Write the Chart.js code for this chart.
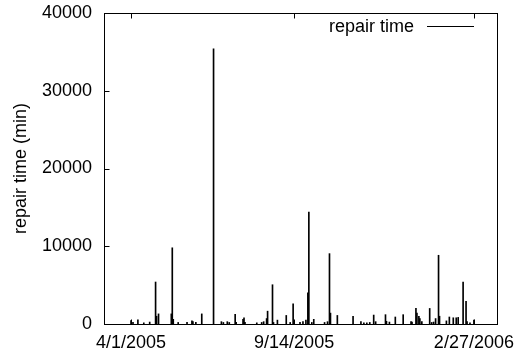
<!DOCTYPE html>
<html>
<head>
<meta charset="utf-8">
<script src="https://cdn.jsdelivr.net/npm/chart.js@4"></script>
<style>
	html, body { margin: 0; padding: 0; background: #fff; }
</style>
</head>
<body>
<canvas id="repairChart" width="516" height="358"></canvas>
<script>
//	Days after 4/1/2005 at which a repair was logged
var dayOffsets = [0, 2, 7, 13, 19, 25, 26, 28, 41, 42, 43, 48, 57, 62, 63, 66, 72, 84, 92, 94,
	98, 100, 106, 107, 114, 115, 116, 128, 133, 135, 138, 139, 144, 145, 149, 158, 162, 165, 166, 172,
	175, 178, 180, 181, 184, 186, 197, 200, 202, 203, 210, 226, 234, 237, 240, 243, 247, 249, 259, 260,
	263, 269, 277, 285, 286, 290, 291, 293, 294, 296, 304, 306, 308, 310, 313, 314, 321, 324, 328, 331,
	333, 338, 341, 342, 345, 349];
//	Repair time in minutes for each of those days
var repairMinutes = [450, 200, 550, 150, 250, 5400, 1000, 1300, 1300, 9800, 600, 200, 200, 400, 300, 200, 1300, 35400, 300, 200,
	300, 200, 1250, 200, 600, 800, 200, 150, 200, 300, 700, 1650, 5050, 200, 500, 1100, 200, 2600, 300, 200,
	300, 500, 4000, 14400, 200, 600, 200, 300, 9050, 1400, 1100, 1000, 300, 150, 150, 200, 1150, 300, 1200, 350,
	250, 900, 1200, 300, 250, 2000, 1400, 1000, 700, 300, 2000, 200, 250, 700, 8840, 1000, 400, 900, 800, 800,
	850, 5400, 2900, 300, 150, 500];

//	Date labels on the x axis and where they sit (in days)
var tickDays = [0, 166, 349];
var tickLabels = ['4/1/2005', '9/14/2005', '2/27/2006'];
var yMax = 40000;
var yStep = 10000;

var fontFamily = '"Liberation Sans", Arial, sans-serif';
var fontSize = 18;

var points = [];
for (let i = 0; i < dayOffsets.length; i++) {
	points.push({ x: dayOffsets[i], y: repairMinutes[i] });
}

//	Stop the scales from pushing the plot area in for label overhang
function noLabelPadding(scale) {
	scale.paddingLeft = 0;
	scale.paddingRight = 0;
	scale.paddingTop = 0;
	scale.paddingBottom = 0;
}

/**
 *	Draws the gnuplot style frame, inward ticks and the key
 */
var framePlugin = {
	id: 'framePlugin',
	afterDatasetsDraw: function (chart) {
		var ctx = chart.ctx;
		var a = chart.chartArea;
		var xs = chart.scales.x;
		var ys = chart.scales.y;
		var l = Math.round(a.left) + 0.5, r = Math.round(a.right) + 0.5;
		var t = Math.round(a.top) + 0.5, b = Math.round(a.bottom) + 0.5;
		ctx.save();
		ctx.strokeStyle = '#000';
		ctx.lineWidth = 1;
		ctx.strokeRect(l, t, r - l, b - t);
		ctx.beginPath();
		//	y ticks, pointing in from the left edge
		for (let v = yStep; v < yMax; v += yStep) {
			var py = Math.round(ys.getPixelForValue(v)) + 0.5;
			ctx.moveTo(l, py);
			ctx.lineTo(l + 5, py);
		}
		//	x ticks on top and bottom
		for (let i = 0; i < tickDays.length; i++) {
			var px = Math.round(xs.getPixelForValue(tickDays[i])) + 0.5;
			ctx.moveTo(px, t);
			ctx.lineTo(px, t + 5);
			ctx.moveTo(px, b);
			ctx.lineTo(px, b - 5);
		}
		ctx.stroke();

		//	key
		ctx.fillStyle = '#000';
		ctx.font = fontSize + 'px ' + fontFamily;
		ctx.textAlign = 'right';
		ctx.textBaseline = 'middle';
		ctx.fillText('repair time', a.right - 83, a.top + 14);
		ctx.beginPath();
		ctx.moveTo(a.right - 70, Math.round(a.top + 13) + 0.5);
		ctx.lineTo(a.right - 23, Math.round(a.top + 13) + 0.5);
		ctx.stroke();
		ctx.restore();
	}
};

var ctx = document.getElementById('repairChart');
var repairChart = new Chart(ctx, {
	type: 'bar',
	data: {
		datasets: [{
			label: 'repair time',
			data: points,
			backgroundColor: '#000',
			borderWidth: 0,
			barThickness: 1
		}]
	},
	options: {
		responsive: false,
		animation: false,
		devicePixelRatio: 1,
		layout: {
			padding: { top: 13, right: 19, left: 0, bottom: 0 }
		},
		plugins: {
			legend: { display: false },
			tooltip: { enabled: false }
		},
		scales: {
			x: {
				type: 'linear',
				offset: false,
				min: -27.5,
				max: 372.5,
				grid: { display: false, drawTicks: false },
				border: { display: false },
				afterFit: function (scale) {
					scale.height = 34;
					noLabelPadding(scale);
				},
				afterBuildTicks: function (scale) {
					scale.ticks = tickDays.map(function (d) { return { value: d }; });
				},
				ticks: {
					autoSkip: false,
					maxRotation: 0,
					padding: 8,
					color: '#000',
					font: { family: fontFamily, size: fontSize },
					callback: function (value) {
						return tickLabels[tickDays.indexOf(value)];
					}
				}
			},
			y: {
				min: 0,
				max: yMax,
				grid: { display: false, drawTicks: false },
				border: { display: false },
				afterFit: function (scale) {
					scale.width = 104;
					noLabelPadding(scale);
				},
				ticks: {
					stepSize: yStep,
					padding: 12,
					color: '#000',
					font: { family: fontFamily, size: fontSize },
					callback: function (value) {
						return String(value);
					}
				},
				title: {
					display: true,
					text: 'repair time (min)',
					color: '#000',
					padding: { top: 10, bottom: 0 },
					font: { family: fontFamily, size: fontSize }
				}
			}
		}
	},
	plugins: [framePlugin]
});
</script>
</body>
</html>
